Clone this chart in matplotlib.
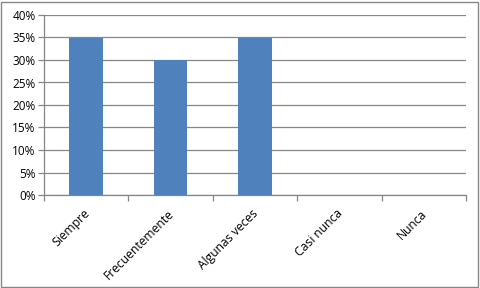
import matplotlib
matplotlib.use("Agg")
import matplotlib.pyplot as plt
from matplotlib.ticker import FuncFormatter, MultipleLocator
from matplotlib.patches import Rectangle

categories = ["Siempre", "Frecuentemente", "Algunas veces", "Casi nunca", "Nunca"]
values = [0.35, 0.30, 0.35, 0.0, 0.0]

plt.rcParams['font.family'] = ['Open Sans', 'DejaVu Sans']

fig = plt.figure(figsize=(4.8, 2.88), dpi=100)
W, H = 480, 288
ax = fig.add_axes([44 / W, 1 - 195 / H, (466 - 44) / W, (195 - 15) / H])

x = list(range(len(categories)))
ax.bar(x, values, width=0.4, color="#4F81BD", zorder=3)
ax.set_xlim(-0.5, len(categories) - 0.5)
ax.set_ylim(0, 0.40)
ax.yaxis.set_major_locator(MultipleLocator(0.05))
ax.yaxis.set_major_formatter(FuncFormatter(lambda v, p: f"{round(v * 100)}%"))
ax.grid(axis="y", color="#868686", linewidth=0.9, zorder=0)
ax.set_axisbelow(True)

for s in ["top", "right"]:
    ax.spines[s].set_visible(False)
for s in ["left", "bottom"]:
    ax.spines[s].set_color("#868686")
    ax.spines[s].set_linewidth(0.9)

ax.tick_params(axis="y", length=4, color="#868686", labelsize=8.5, pad=2, width=0.9)
ax.set_xticks([i + 0.5 for i in range(-1, len(categories))], minor=True)
ax.set_xticks(x)
ax.set_xticklabels([])
ax.tick_params(axis="x", which="major", length=0)
ax.tick_params(axis="x", which="minor", length=4, color="#868686", width=0.9)

for i, c in enumerate(categories):
    ax.annotate(c, xy=(i, 0), xycoords=("data", "axes fraction"),
                xytext=(1, -12), textcoords="offset points",
                rotation=45, rotation_mode="anchor", ha="right", va="center",
                fontsize=8.7)

fig.patches.append(Rectangle((1 / W, 1 / H), (W - 3) / W, (H - 3) / H,
                             transform=fig.transFigure, fill=False,
                             edgecolor="#868686", linewidth=1))

fig.savefig("out.png", dpi=100)
